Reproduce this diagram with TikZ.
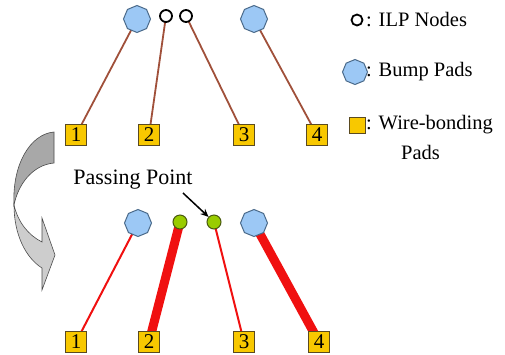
\documentclass[tikz,border=0pt]{standalone}
\usepackage{fontspec}
\setmainfont{Liberation Serif}
\usetikzlibrary{shapes.geometric,arrows.meta,backgrounds}
\definecolor{bumpfill}{HTML}{9CC8F5}
\definecolor{bumpdraw}{HTML}{4A6A8A}
\definecolor{padfill}{HTML}{F8C800}
\definecolor{paddraw}{HTML}{5A4A20}
\definecolor{greenfill}{HTML}{99CC00}
\definecolor{greendraw}{HTML}{4A5A10}
\definecolor{wirebrown}{HTML}{A0503A}
\definecolor{wirered}{HTML}{F01010}
\definecolor{arrdark}{HTML}{A8A8A8}
\definecolor{arrlight}{HTML}{CDCDCD}
\tikzset{
  bump/.style={regular polygon, regular polygon sides=8, shape border rotate=22.5,
    minimum size=27pt, inner sep=0pt, fill=bumpfill, draw=bumpdraw, line width=1pt},
  ilp/.style={circle, minimum size=12pt, inner sep=0pt, draw=black, fill=white, line width=1.8pt},
  passpt/.style={circle, minimum size=14pt, inner sep=0pt, draw=greendraw, fill=greenfill, line width=1pt},
  wbpad/.style={rectangle, minimum size=21pt, inner sep=0pt, fill=padfill, draw=paddraw,
    line width=1pt, font=\fontsize{21}{21}\selectfont},
  oldwire/.style={draw=wirebrown, line width=1.8pt},
  thinwire/.style={draw=wirered, line width=2pt},
  thickwire/.style={draw=wirered, line width=9pt},
  legtext/.style={anchor=west, inner sep=0pt, font=\fontsize{20.5}{20.5}\selectfont},
}
\begin{document}
\begin{tikzpicture}[x=1pt,y=-1pt]
\useasboundingbox (0,0) rectangle (505,354);
% curved arrow
\fill[arrdark, draw=black!70, line width=0.6pt] (54,132) .. controls (30,134) and (12,165) .. (14,205)
  .. controls (18,185) and (32,165) .. (54,163) -- cycle;
\fill[arrlight, draw=black!70, line width=0.6pt] (14,205) .. controls (14,235) and (26,258) .. (42,268)
  -- (42,290) -- (55,255) -- (42,218) -- (42,242) .. controls (28,235) and (18,222) .. (14,205) -- cycle;
% top row
\node[bump] (b1) at (137,19) {};
\node[ilp] (i1) at (166,16) {};
\node[ilp] (i2) at (186,16) {};
\node[bump] (b2) at (254,19) {};
\node[wbpad] (t1) at (76,135) {1};
\node[wbpad] (t2) at (149,135) {2};
\node[wbpad] (t3) at (244,135) {3};
\node[wbpad] (t4) at (317,135) {4};
\begin{scope}[on background layer]
\draw[oldwire] (b1.center) -- (t1.center);
\draw[oldwire] (i1.center) -- (t2.center);
\draw[oldwire] (i2.center) -- (t3.center);
\draw[oldwire] (b2.center) -- (t4.center);
\end{scope}
% bottom row
\node[bump] (c1) at (138,223) {};
\node[passpt] (g1) at (180,222) {};
\node[passpt] (g2) at (214,222) {};
\node[bump] (c2) at (254,223) {};
\node[wbpad] (u1) at (76,342) {1};
\node[wbpad] (u2) at (149,342) {2};
\node[wbpad] (u3) at (244,342) {3};
\node[wbpad] (u4) at (319,342) {4};
\begin{scope}[on background layer]
\draw[thinwire] (c1.center) -- (u1.center);
\draw[thickwire] (g1.center) -- (u2.center);
\draw[thinwire] (g2.center) -- (u3.center);
\draw[thickwire] (c2.center) -- (u4.center);
\end{scope}
% passing point label
\node[inner sep=0pt, font=\fontsize{22}{22}\selectfont] (pp) at (133,180) {Passing Point};
\coordinate (ppa) at (183,193);
\draw[line width=1.5pt, -{Stealth[length=8pt,width=7pt]}] (ppa) -- (g2);
% legend
\node[ilp, minimum size=11pt] (li) at (357,20) {};
\node[legtext] (lit) at (366,20) {: ILP Nodes};
\node[bump, minimum size=25pt] (lb) at (355,72) {};
\node[legtext] (lbt) at (366,72) {: Bump Pads};
\node[wbpad, minimum size=16pt] (lw) at (357,125) {};
\node[legtext] (lwt) at (366,125) {: Wire-bonding};
\node[legtext] (lwt2) at (401,152) {Pads};
\end{tikzpicture}
\end{document}
